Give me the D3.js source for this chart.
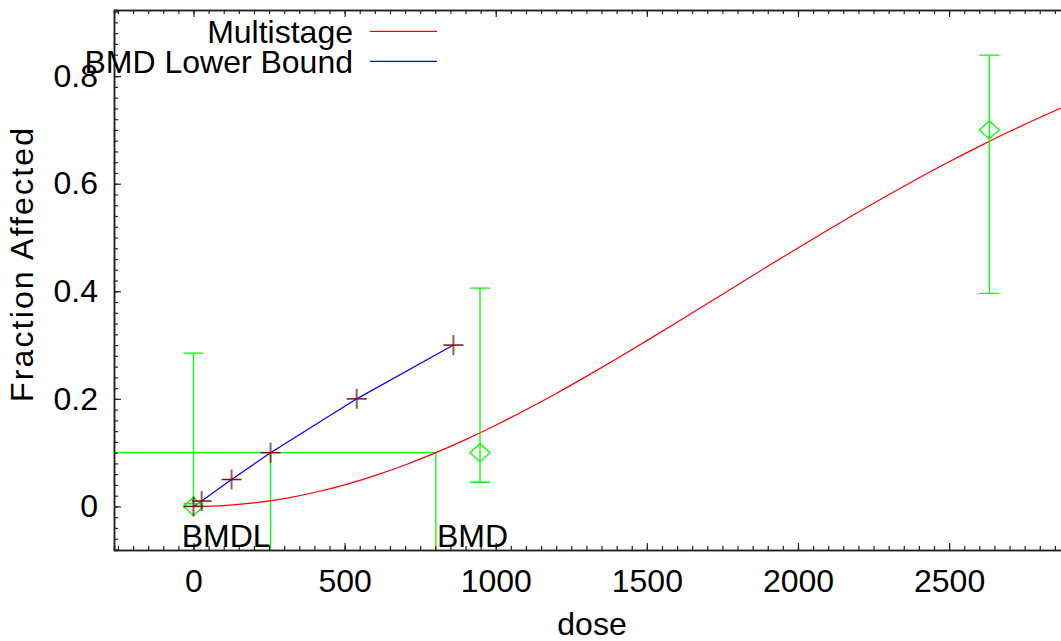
<!DOCTYPE html>
<html>
<head>
<meta charset="utf-8">
<script src="https://cdn.jsdelivr.net/npm/d3@7"></script>
<style>
  body { margin: 0; background: #fff; }
  text { font-family: "Liberation Sans", Arial, sans-serif; }
</style>
</head>
<body>
<svg id="chart"></svg>
<script>
const width = 1061;
const height = 641;
const margin = { top: 10, bottom: 91, left: 114, right: -9 };

// observed dose groups with confidence limits
const doseGroups = [0, 948, 2633];
const observed = [0, 0.1, 0.7];
const lowerCI = [0.005, 0.045, 0.396];
const upperCI = [0.285, 0.406, 0.839];

// fitted multistage curve
const fitDose = [0, 100, 200, 300, 400, 500, 600, 700, 800, 900, 1000, 1100, 1200, 1300, 1400,
    1500, 1600, 1700, 1800, 1900, 2000, 2100, 2200, 2300, 2400, 2500, 2600, 2700, 2800, 2900];
const fitResp = [0, 0.0016, 0.0065, 0.0146, 0.0259, 0.0401, 0.0573, 0.0771, 0.0995, 0.1243, 0.1511,
    0.1798, 0.2101, 0.2418, 0.2746, 0.3083, 0.3425, 0.3771, 0.4118, 0.4464, 0.4807, 0.5144,
    0.5474, 0.5796, 0.6107, 0.6408, 0.6695, 0.6970, 0.7231, 0.7478];

// BMD lower bound points
const bmdlDose = [0, 27, 126, 255, 540, 860];
const bmdlResp = [0, 0.01, 0.05, 0.1, 0.2, 0.3];

const bmr = 0.1;
const bmd = 802;
const bmdl = 255;

const xTicks = [0, 500, 1000, 1500, 2000, 2500];
const yTicks = [0, 0.2, 0.4, 0.6, 0.8];
const legendNames = ["Multistage", "BMD Lower Bound"];
const legendColors = ["#ff0000", "#0000ff"];

const green = "#00ff00";
const axisColor = "#222";

const svg = d3.select("#chart")
    .attr("width", width)
    .attr("height", height)
    .attr("viewBox", [0, 0, width, height]);

const xScale = d3.scaleLinear()
    .domain([-263, 2900])
    .range([margin.left, width - margin.right]);

const yScale = d3.scaleLinear()
    .domain([-0.081, 0.923])
    .range([height - margin.bottom, margin.top]);

svg.append("clipPath")
    .attr("id", "plotClip")
    .append("rect")
    .attr("x", margin.left)
    .attr("y", margin.top)
    .attr("width", width - margin.right - margin.left)
    .attr("height", height - margin.bottom - margin.top);

const plot = svg.append("g").attr("clip-path", "url(#plotClip)");

// BMD / BMDL guide lines
plot.append("path")
    .attr("fill", "none")
    .attr("stroke", green)
    .attr("stroke-width", 1.3)
    .attr("d", `M${xScale.range()[0]},${yScale(bmr)}H${xScale(bmd)}V${yScale.range()[0]}`);

plot.append("line")
    .attr("x1", xScale(bmdl)).attr("x2", xScale(bmdl))
    .attr("y1", yScale(bmr)).attr("y2", yScale.range()[0])
    .attr("stroke", green)
    .attr("stroke-width", 1.3);

// fitted curve
const fitData = fitDose.map((d, i) => [d, fitResp[i]]);
plot.append("path")
    .datum(fitData)
    .attr("fill", "none")
    .attr("stroke", "#ff0000")
    .attr("stroke-width", 1.2)
    .attr("d", d3.line().curve(d3.curveMonotoneX).x(d => xScale(d[0])).y(d => yScale(d[1])));

// BMDL line + crosses
const bmdlData = bmdlDose.map((d, i) => [d, bmdlResp[i]]);
plot.append("path")
    .datum(bmdlData)
    .attr("fill", "none")
    .attr("stroke", "#0000ff")
    .attr("stroke-width", 1.2)
    .attr("d", d3.line().x(d => xScale(d[0])).y(d => yScale(d[1])));

// error bars
const groups = doseGroups.map((d, i) => ({ dose: d, mean: observed[i], lo: lowerCI[i], hi: upperCI[i] }));
const bars = plot.append("g")
    .attr("stroke", green)
    .attr("stroke-width", 1.3)
    .attr("fill", "none");

bars.selectAll("path.errbar")
    .data(groups)
    .join("path")
    .attr("class", "errbar")
    .attr("d", d => {
        const x = xScale(d.dose);
        return `M${x - 10},${yScale(d.hi)}H${x + 10}M${x},${yScale(d.hi)}V${yScale(d.lo)}M${x - 10},${yScale(d.lo)}H${x + 10}`;
    });

bars.selectAll("path.diamond")
    .data(groups)
    .join("path")
    .attr("class", "diamond")
    .attr("d", d => {
        const x = xScale(d.dose), y = yScale(d.mean);
        return `M${x - 10},${y}L${x},${y - 9}L${x + 10},${y}L${x},${y + 9}Z`;
    });

const crosses = plot.append("g");
crosses.selectAll("line.h")
    .data(bmdlData)
    .join("line")
    .attr("class", "h")
    .attr("x1", d => xScale(d[0]) - 10)
    .attr("x2", d => xScale(d[0]) + 10)
    .attr("y1", d => yScale(d[1]))
    .attr("y2", d => yScale(d[1]))
    .attr("stroke", "#7a1010")
    .attr("stroke-width", 1.5);
crosses.selectAll("line.v")
    .data(bmdlData)
    .join("line")
    .attr("class", "v")
    .attr("x1", d => xScale(d[0]))
    .attr("x2", d => xScale(d[0]))
    .attr("y1", d => yScale(d[1]) - 10)
    .attr("y2", d => yScale(d[1]) + 10)
    .attr("stroke", "#7a1010")
    .attr("stroke-opacity", 0.7)
    .attr("stroke-width", 2);

// axes
function styleAxis(g) {
    g.selectAll("path.domain").attr("stroke", axisColor).attr("stroke-width", 1.5);
    g.selectAll(".tick line").attr("stroke", axisColor).attr("stroke-width", 1.2);
    g.selectAll("text").attr("fill", "#000");
    g.attr("font-size", "32px").attr("font-family", "Liberation Sans, Arial, sans-serif");
}

const xMinor = d3.range(-250, 2901, 50);
const yMinor = d3.range(-8, 93, 2).map(v => v / 100);
const bottomY = yScale.range()[0];
const rightX = xScale.range()[1];

svg.append("g")
    .attr("transform", `translate(0,${bottomY})`)
    .call(d3.axisBottom(xScale).tickValues(xMinor).tickSize(-4).tickFormat(""))
    .call(styleAxis);
svg.append("g")
    .attr("transform", `translate(0,${bottomY})`)
    .call(d3.axisBottom(xScale).tickValues(xTicks).tickSizeInner(-7).tickSizeOuter(0).tickPadding(19)
        .tickFormat(d3.format("d")))
    .call(styleAxis);

svg.append("g")
    .attr("transform", `translate(0,${margin.top})`)
    .call(d3.axisTop(xScale).tickValues(xMinor).tickSize(-4).tickFormat(""))
    .call(styleAxis);
svg.append("g")
    .attr("transform", `translate(0,${margin.top})`)
    .call(d3.axisTop(xScale).tickValues(xTicks).tickSizeInner(-7).tickSizeOuter(0).tickFormat(""))
    .call(styleAxis);

svg.append("g")
    .attr("transform", `translate(${margin.left},0)`)
    .call(d3.axisLeft(yScale).tickValues(yMinor).tickSize(-4).tickFormat(""))
    .call(styleAxis);
svg.append("g")
    .attr("transform", `translate(${margin.left},0)`)
    .call(d3.axisLeft(yScale).tickValues(yTicks).tickSizeInner(-7).tickSizeOuter(0).tickPadding(16)
        .tickFormat(d => d === 0 ? "0" : d3.format(".1f")(d)))
    .call(styleAxis);

svg.append("g")
    .attr("transform", `translate(${rightX},0)`)
    .call(d3.axisRight(yScale).tickValues(yMinor).tickSize(-4).tickFormat(""))
    .call(styleAxis);

// BMD labels
svg.append("text")
    .attr("x", xScale(bmdl))
    .attr("y", 547)
    .attr("text-anchor", "end")
    .attr("font-size", "32px")
    .text("BMDL");
svg.append("text")
    .attr("x", xScale(bmd) + 1)
    .attr("y", 547)
    .attr("font-size", "32px")
    .text("BMD");

// axis titles
svg.append("text")
    .attr("x", (xScale.range()[0] + xScale.range()[1]) / 2)
    .attr("y", 635)
    .attr("text-anchor", "middle")
    .attr("font-size", "32px")
    .text("dose");

svg.append("text")
    .attr("transform", "translate(33,265) rotate(-90)")
    .attr("text-anchor", "middle")
    .attr("font-size", "32px")
    .attr("textLength", 274)
    .attr("lengthAdjust", "spacing")
    .text("Fraction Affected");

// legend (drawn last, it sits over the 0.8 label as in the original)
const legend = svg.append("g");
legendNames.forEach((name, i) => {
    const y = 31.3 + i * 30;
    legend.append("text")
        .attr("x", 353)
        .attr("y", y + 11.4)
        .attr("text-anchor", "end")
        .attr("font-size", "32px")
        .text(name);
    legend.append("line")
        .attr("x1", 370).attr("x2", 437)
        .attr("y1", y).attr("y2", y)
        .attr("stroke", legendColors[i])
        .attr("stroke-width", 1.2);
});
</script>
</body>
</html>
